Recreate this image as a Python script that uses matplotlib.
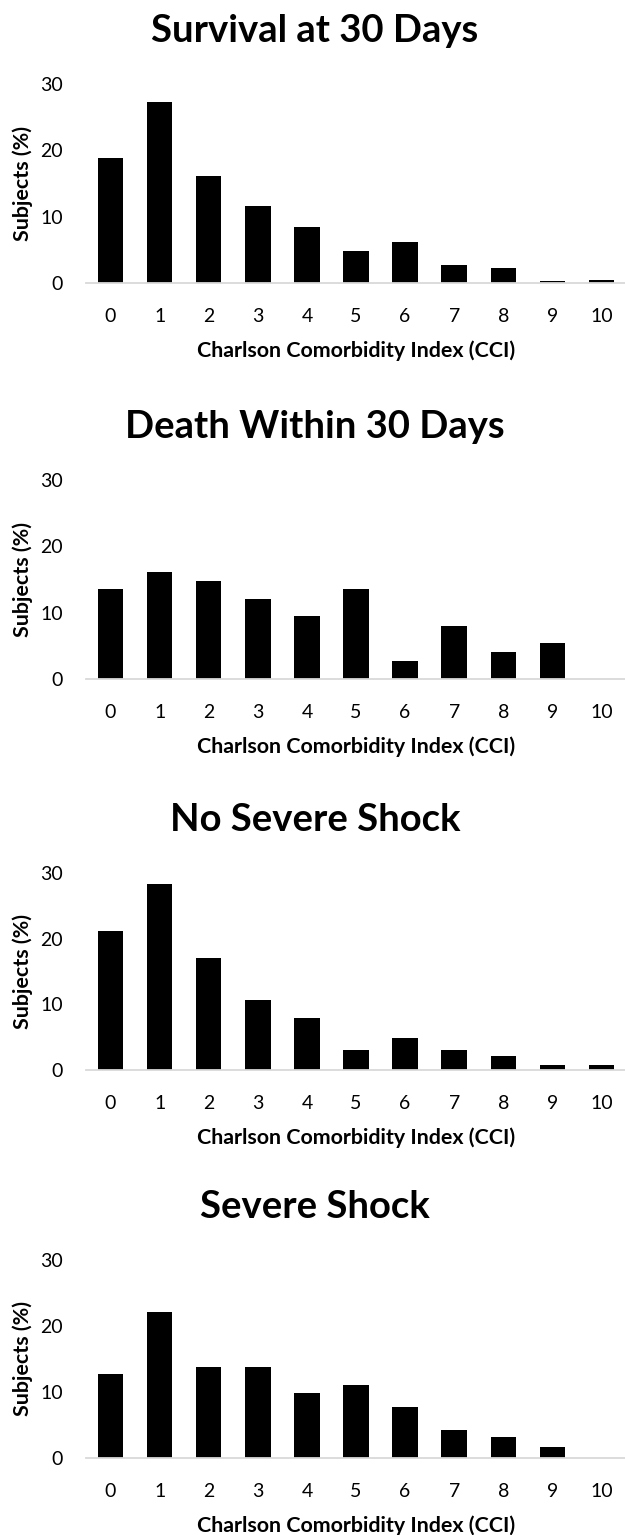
import matplotlib.pyplot as plt
import numpy as np

cci = ['0', '1', '2', '3', '4', '5', '6', '7', '8', '9', '10']

titles = ['Survival at 30 Days', 'Death Within 30 Days', 'No Severe Shock', 'Severe Shock']

survival = [18.9, 27.3, 16.1, 11.6, 8.5, 4.8, 6.2, 2.7, 2.3, 0.35, 0.5]
death = [13.5, 16.1, 14.8, 12.1, 9.5, 13.5, 2.7, 8.0, 4.0, 5.4, 0.0]
no_shock = [21.1, 28.4, 17.0, 10.7, 7.9, 3.1, 4.8, 3.1, 2.1, 0.7, 0.7]
shock = [12.7, 22.1, 13.8, 13.8, 9.9, 11.0, 7.7, 4.3, 3.2, 1.6, 0.0]

series = [survival, death, no_shock, shock]

plt.rcParams['font.family'] = ['Lato', 'DejaVu Sans']

W, H = 625, 1535
fig = plt.figure(figsize=(W / 100, H / 100), dpi=100)

# plot area of each panel in pixels: y of the 30 line and of the 0 line
tops = [84, 480, 873, 1260]
bottoms = [283, 679, 1070, 1458]
left, right = 86, 626

x = np.arange(len(cci))
for i in range(4):
    h = bottoms[i] - tops[i]
    w = right - left
    ax = fig.add_axes([left / W, 1 - bottoms[i] / H, w / W, h / H])
    ax.bar(x, series[i], width=0.52, color='black')
    ax.set_xlim(-0.5, len(cci) - 0.5)
    ax.set_ylim(0, 30)
    ax.set_yticks([0, 10, 20, 30])
    ax.set_xticks(x)
    ax.set_xticklabels(cci)
    ax.tick_params(length=0, labelsize=14)
    ax.tick_params(axis='y', pad=16.5)
    ax.tick_params(axis='x', pad=18)
    for s in ['top', 'right', 'left']:
        ax.spines[s].set_visible(False)
    ax.spines['bottom'].set_color('#d9d9d9')
    ax.spines['bottom'].set_linewidth(1.3)

    # title is centred on the whole chart, not the plot area
    ax.set_title(titles[i], fontsize=27.5, fontweight='bold', pad=0,
                 x=(315 - left) / w, y=1 + 42 / h, va='baseline')
    ax.set_xlabel('Charlson Comorbidity Index (CCI)', fontsize=15.4, fontweight='bold')
    ax.xaxis.set_label_coords(0.5, -57 / h)
    ax.set_ylabel('Subjects (%)', fontsize=15.4, fontweight='bold')
    ax.yaxis.set_label_coords((33 - left) / w, 0.5)

fig.savefig('out.png', dpi=100, facecolor='white')
